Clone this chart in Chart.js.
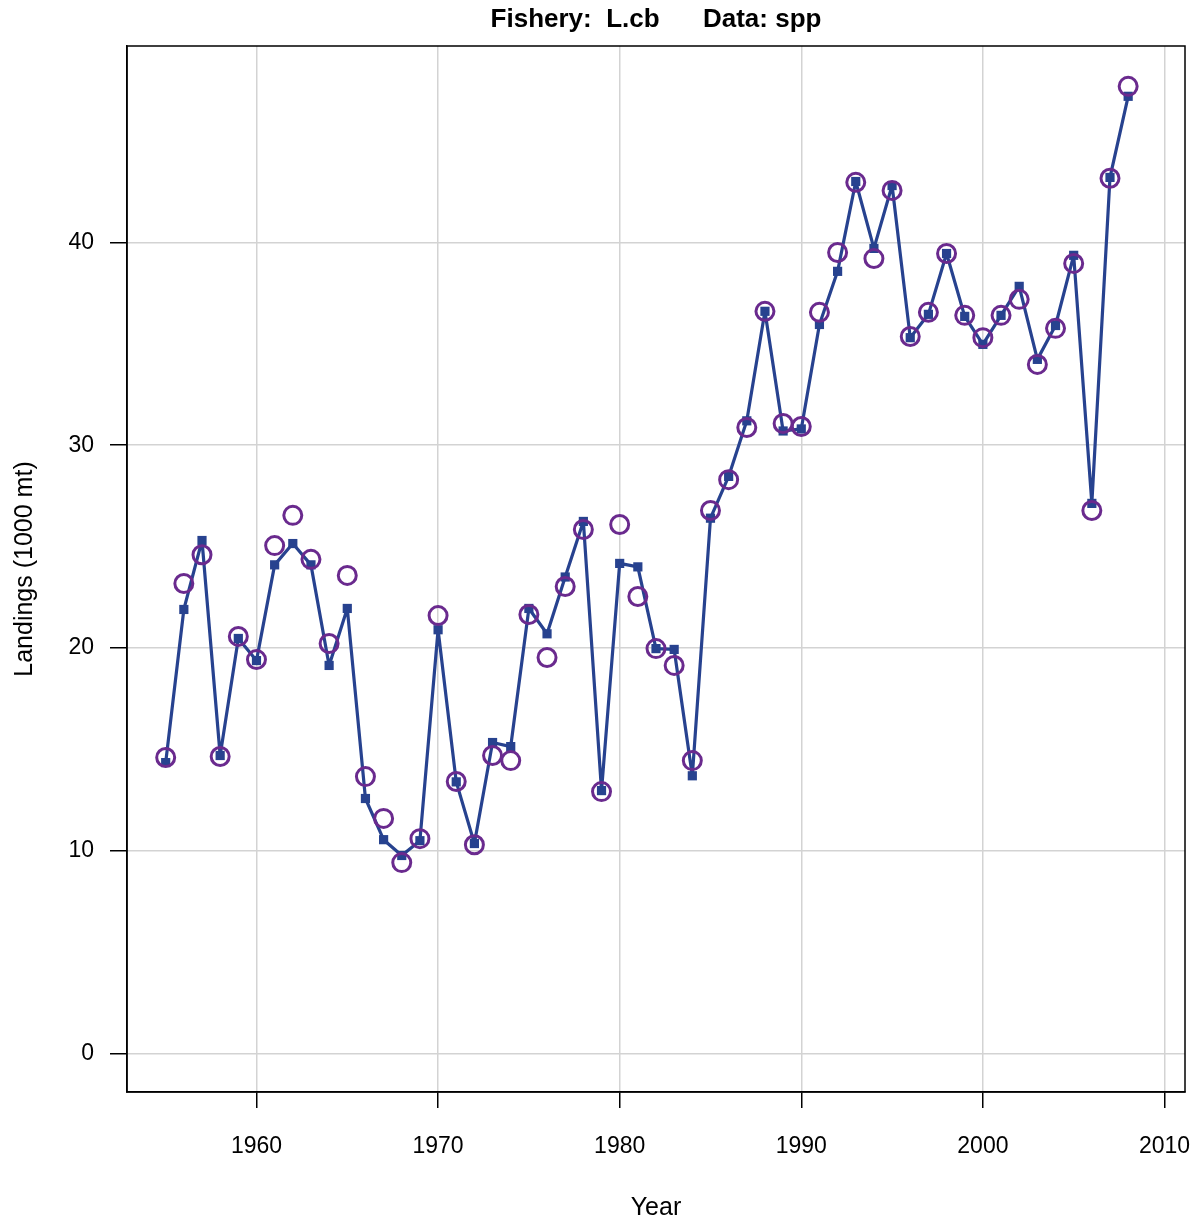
<!DOCTYPE html>
<html>
<head>
<meta charset="utf-8">
<script src="https://cdn.jsdelivr.net/npm/chart.js@4.4.1/dist/chart.umd.min.js"></script>
<style>
  html, body { margin: 0; padding: 0; background: #fff; }
  canvas { display: block; }
</style>
</head>
<body>
<canvas id="chartLandings" width="1202" height="1223"></canvas>
<script>
const years = [1955, 1956, 1957, 1958, 1959, 1960, 1961, 1962, 1963, 1964,
  1965, 1966, 1967, 1968, 1969, 1970, 1971, 1972, 1973, 1974,
  1975, 1976, 1977, 1978, 1979, 1980, 1981, 1982, 1983, 1984,
  1985, 1986, 1987, 1988, 1989, 1990, 1991, 1992, 1993, 1994,
  1995, 1996, 1997, 1998, 1999, 2000, 2001, 2002, 2003, 2004,
  2005, 2006, 2007, 2008];

// fitted / predicted landings (line with filled markers)
const predicted = [14.35, 21.9, 25.3, 14.7, 20.47, 19.38, 24.1, 25.15, 24.1, 19.14,
  21.95, 12.58, 10.55, 9.77, 10.5, 20.9, 13.4, 10.36, 15.34, 15.14,
  21.95, 20.7, 23.5, 26.24, 12.97, 24.17, 24.0, 19.97, 19.93, 13.7,
  26.4, 28.46, 31.2, 36.6, 30.7, 30.8, 35.95, 38.57, 43.0, 39.7,
  42.8, 35.3, 36.45, 39.45, 36.35, 34.97, 36.4, 37.83, 34.23, 35.9,
  39.36, 27.13, 43.2, 47.2];

// observed landings (open circles)
const observed = [14.6, 23.18, 24.6, 14.65, 20.57, 19.43, 25.05, 26.54, 24.37, 20.22,
  23.58, 13.66, 11.6, 9.42, 10.6, 21.6, 13.42, 10.3, 14.7, 14.45,
  21.65, 19.53, 23.03, 25.84, 12.92, 26.09, 22.54, 19.97, 19.14, 14.45,
  26.78, 28.3, 30.87, 36.6, 31.07, 30.92, 36.55, 39.5, 42.96, 39.2,
  42.56, 35.36, 36.55, 39.45, 36.4, 35.3, 36.4, 37.19, 33.98, 35.76,
  38.96, 26.78, 43.16, 47.69];

const xTicks = [1960, 1970, 1980, 1990, 2000, 2010];
const yTicks = [0, 10, 20, 30, 40];
const titleText = 'Fishery:  L.cb      Data: spp';

const FONT = "'Liberation Sans', Arial, Helvetica, sans-serif";

const toPoints = (vals) => years.map((yr, i) => ({ x: yr, y: vals[i] }));

// full box around the plot area + title centred over the plot (like R's main=)
const frameBox = {
  id: 'frameBox',
  afterDraw(chart) {
    const { ctx, chartArea: a } = chart;
    ctx.save();
    ctx.strokeStyle = '#000';
    ctx.lineWidth = 1.5;
    ctx.strokeRect(a.left, a.top, a.right - a.left, a.bottom - a.top);
    ctx.fillStyle = '#000';
    ctx.font = 'bold 26px ' + FONT;
    ctx.textAlign = 'center';
    ctx.textBaseline = 'middle';
    ctx.fillText(titleText, (a.left + a.right) / 2, 20);
    ctx.restore();
  }
};

const config = {
  type: 'scatter',
  data: {
    datasets: [
      {
        label: 'Observed',
        data: toPoints(observed),
        showLine: false,
        pointStyle: 'circle',
        pointRadius: 9,
        pointBorderWidth: 3,
        pointBorderColor: '#6a2a8e',
        pointBackgroundColor: 'rgba(0,0,0,0)',
        order: 0
      },
      {
        label: 'Predicted',
        data: toPoints(predicted),
        showLine: true,
        borderColor: '#27428f',
        borderWidth: 3.2,
        borderJoinStyle: 'round',
        tension: 0,
        pointStyle: 'rect',
        pointRadius: 6.5,
        pointBorderWidth: 0,
        pointBackgroundColor: '#27428f',
        order: 1
      }
    ]
  },
  options: {
    responsive: false,
    animation: false,
    devicePixelRatio: 1,
    layout: { padding: { top: 46, right: 17, bottom: 0, left: 0 } },
    plugins: {
      legend: { display: false },
      tooltip: { enabled: false },
      title: { display: false }
    },
    scales: {
      x: {
        type: 'linear',
        min: 1952.87,
        max: 2011.13,
        afterFit(scale) {
          scale.height = 131;
          scale.paddingLeft = 0;
          scale.paddingRight = 0;
        },
        afterBuildTicks(scale) { scale.ticks = xTicks.map(v => ({ value: v })); },
        grid: { color: '#d3d3d3', lineWidth: 1.5, tickColor: '#000', tickLength: 16, tickWidth: 1.5 },
        border: { display: true, color: '#000', width: 1.5 },
        ticks: {
          color: '#000',
          font: { family: FONT, size: 23 },
          padding: 25,
          maxRotation: 0,
          callback: (v) => String(v)
        },
        title: {
          display: true,
          text: 'Year',
          color: '#000',
          font: { family: FONT, size: 25 },
          padding: { top: 0, bottom: 0 }
        }
      },
      y: {
        type: 'linear',
        min: -1.89,
        max: 49.68,
        afterFit(scale) { scale.width = 127; },
        afterBuildTicks(scale) { scale.ticks = yTicks.map(v => ({ value: v })); },
        grid: { color: '#d3d3d3', lineWidth: 1.5, tickColor: '#000', tickLength: 17, tickWidth: 1.5 },
        border: { display: true, color: '#000', width: 1.5 },
        ticks: { color: '#000', font: { family: FONT, size: 23 }, padding: 16 },
        title: {
          display: true,
          text: 'Landings (1000 mt)',
          color: '#000',
          font: { family: FONT, size: 25 },
          padding: { top: 10, bottom: 0 }
        }
      }
    }
  },
  plugins: [frameBox]
};

const chartLandings = new Chart(document.getElementById('chartLandings'), config);
</script>
</body>
</html>
